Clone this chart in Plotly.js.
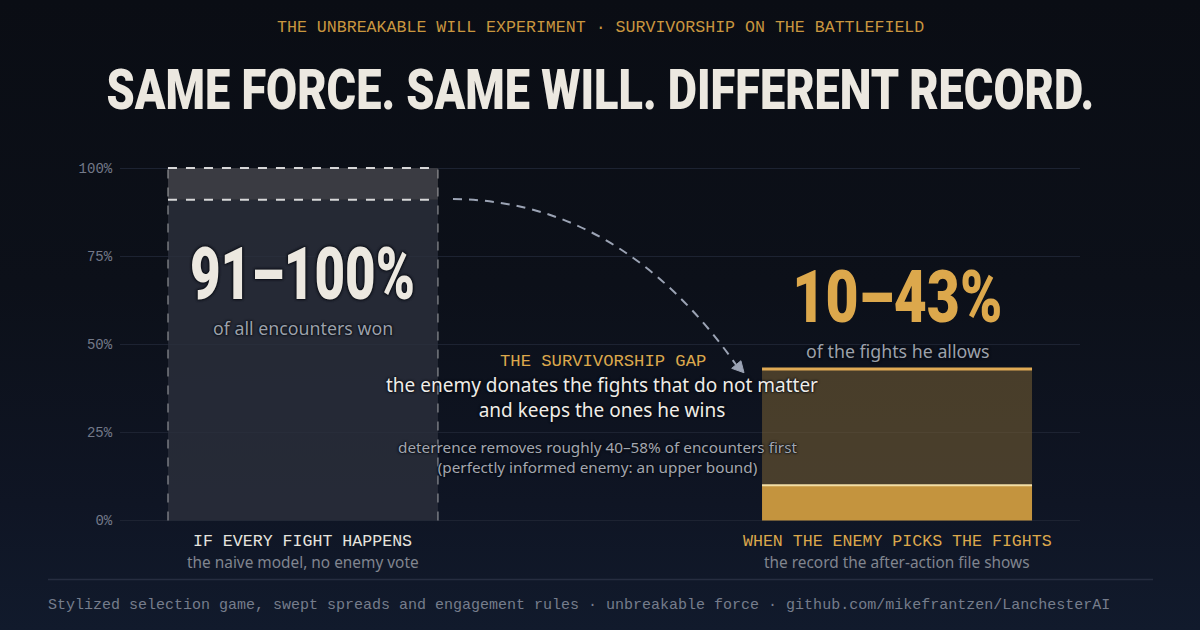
<!DOCTYPE html>
<html>
<head>
<meta charset="utf-8">
<script src="https://cdn.plot.ly/plotly-3.0.1.min.js"></script>
<style>
  html, body { margin:0; padding:0; width:1200px; height:630px; overflow:hidden;
    background: linear-gradient(180deg, #0a0d14 0%, #0c1019 45%, #0f1524 80%, #111a2c 100%); }
  #chart { width:1200px; height:630px; }
</style>
</head>
<body>
<div id="chart"></div>
<script>
// ---- data ----
const categories = ['IF EVERY FIGHT HAPPENS', 'WHEN THE ENEMY PICKS THE FIGHTS'];
const categorySubtitles = ['the naive model, no enemy vote', 'the record the after-action file shows'];
const lowBound = [91, 10];     // lower end of win-rate range (%)
const highBound = [100, 43];   // upper end of win-rate range (%)
const rangeLabels = ['91–100%', '10–43%'];
const rangeCaptions = ['of all encounters won', 'of the fights he allows'];
const yTicks = [0, 25, 50, 75, 100];
const headerText = 'THE UNBREAKABLE WILL EXPERIMENT · SURVIVORSHIP ON THE BATTLEFIELD';
const titleText = 'SAME FORCE. SAME WILL. DIFFERENT RECORD.';
const gapTitle = 'THE SURVIVORSHIP GAP';
const gapText = 'the enemy donates the fights that do not matter<br>and keeps the ones he wins';
const gapNote = 'deterrence removes roughly 40–58% of encounters first<br>(perfectly informed enemy: an upper bound)';
const footerText = 'Stylized selection game, swept spreads and engagement rules · unbreakable force · github.com/mikefrantzen/LanchesterAI';

// ---- style ----
const MONO = 'Liberation Mono, DejaVu Sans Mono, monospace';
const SANS = 'Noto Sans, Inter, Open Sans, sans-serif';
const COND = 'Roboto, Liberation Sans, sans-serif';
const GOLD = '#dca84c';
const CREAM = '#ece8e0';
const GREY = '#9ca1ab';
const HALO = '0px 0px 3px #0a0d14, 0px 0px 2px #0a0d14, 0px 0px 1px #0a0d14';
const barW = 0.4545;

const M = {l:120, r:120, t:154, b:105.5};
const plotH = 630 - M.t - M.b, plotW = 1200 - M.l - M.r;
const px = x => (x - M.l) / plotW;
const py = y => (630 - M.b - y) / plotH;

const xs = categories.map((_, i) => i);

const traces = [
  { type:'bar', x:[xs[0]], y:[lowBound[0]], base:[0], width:barW,
    marker:{color:'rgba(44,48,60,0.8)', line:{width:0}}, hoverinfo:'skip', showlegend:false },
  { type:'bar', x:[xs[0]], y:[highBound[0]-lowBound[0]], base:[lowBound[0]], width:barW,
    marker:{color:'#3a3b42', line:{width:0}}, hoverinfo:'skip', showlegend:false },
  { type:'bar', x:[xs[1]], y:[lowBound[1]], base:[0], width:barW,
    marker:{color:'#c4943e', line:{width:0}}, hoverinfo:'skip', showlegend:false },
  { type:'bar', x:[xs[1]], y:[highBound[1]-lowBound[1]], base:[lowBound[1]], width:barW,
    marker:{color:'rgba(110,88,50,0.62)', line:{width:0}}, hoverinfo:'skip', showlegend:false }
];

const shapes = [];
const lx0 = xs[0]-barW/2, lx1 = xs[0]+barW/2;
shapes.push({type:'line', xref:'x', yref:'y', x0:lx0, x1:lx0, y0:0, y1:highBound[0], line:{color:'rgba(220,220,220,0.55)', width:1.3, dash:'dash'}});
shapes.push({type:'line', xref:'x', yref:'y', x0:lx1, x1:lx1, y0:0, y1:highBound[0], line:{color:'rgba(220,220,220,0.55)', width:1.3, dash:'dash'}});
shapes.push({type:'line', xref:'x', yref:'y', x0:lx0, x1:lx1, y0:highBound[0], y1:highBound[0], line:{color:'rgba(235,235,235,0.9)', width:2, dash:'dash'}});
shapes.push({type:'line', xref:'x', yref:'y', x0:lx0, x1:lx1, y0:lowBound[0], y1:lowBound[0], line:{color:'rgba(235,235,235,0.9)', width:2, dash:'dash'}});
const rx0 = xs[1]-barW/2, rx1 = xs[1]+barW/2;
shapes.push({type:'line', xref:'x', yref:'y', x0:rx0, x1:rx1, y0:highBound[1], y1:highBound[1], line:{color:'#e0aa55', width:3}});
shapes.push({type:'line', xref:'x', yref:'y', x0:rx0, x1:rx1, y0:lowBound[1], y1:lowBound[1], line:{color:'#f3dfa6', width:2}});
shapes.push({type:'path', xref:'x', yref:'y',
  path:'M 0.2525,91.2 Q 0.5337,90.9 0.7290,44.19',
  line:{color:'#9ba3b4', width:2, dash:'9px,7px'}});
shapes.push({type:'path', xref:'x', yref:'y',
  path:'M 0.7424,41.93 L 0.7372,45.33 L 0.7217,43.17 Z',
  fillcolor:'#9ba3b4', line:{color:'#9ba3b4', width:1}});
shapes.push({type:'line', xref:'paper', yref:'paper', x0:px(48), x1:px(1153), y0:py(580), y1:py(580), line:{color:'#262d40', width:1.5}});

const ann = [];
const fitWidths = {}; // annotation index -> target pixel width (horizontal condensing)
ann.push({xref:'paper', yref:'paper', x:px(600), y:py(27), text:headerText, showarrow:false,
  xanchor:'center', yanchor:'middle', font:{family:MONO, size:16.6, color:'#c9963f'}});
fitWidths[ann.length] = 988;
ann.push({xref:'paper', yref:'paper', x:px(600), y:py(90), text:titleText, showarrow:false,
  xanchor:'center', yanchor:'middle', font:{family:COND, size:56, color:CREAM, weight:900}});
const bigColors = [CREAM, GOLD];
const bigY = [274, 297];
const bigW = [225, 210];
const capY = [328, 351];
xs.forEach((x, i) => {
  fitWidths[ann.length] = bigW[i];
  ann.push({xref:'x', yref:'paper', x:x, y:py(bigY[i]), text:rangeLabels[i], showarrow:false,
    xanchor:'center', yanchor:'middle',
    font:{family:COND, size:73, color:bigColors[i], weight:900, shadow: i===0 ? '0px 0px 3px #0a0d14, 0px 0px 3px #0a0d14, 0px 0px 2px #0a0d14' : 'none'}});
  ann.push({xref:'x', yref:'paper', x:x, y:py(capY[i]), text:rangeCaptions[i], showarrow:false,
    xanchor:'center', yanchor:'middle', font:{family:SANS, size:17.8, color:GREY, shadow:HALO}});
  ann.push({xref:'x', yref:'paper', x:x, y:py(542), text:categories[i], showarrow:false,
    xanchor:'center', yanchor:'middle', font:{family:MONO, size:16.6, color: i===0 ? '#e6e4df' : GOLD}});
  ann.push({xref:'x', yref:'paper', x:x, y:py(563), text:categorySubtitles[i], showarrow:false,
    xanchor:'center', yanchor:'middle', font:{family:SANS, size:15.4, color:'#80858f'}});
});
ann.push({xref:'paper', yref:'paper', x:px(603), y:py(362), text:gapTitle, showarrow:false,
  xanchor:'center', yanchor:'middle', font:{family:MONO, size:17.2, color:GOLD}});
ann.push({xref:'paper', yref:'paper', x:px(602), y:py(398), text:gapText, showarrow:false,
  xanchor:'center', yanchor:'middle', font:{family:SANS, size:19, color:'#efede8', shadow:HALO}});
ann.push({xref:'paper', yref:'paper', x:px(597), y:py(457.5), text:gapNote, showarrow:false,
  xanchor:'center', yanchor:'middle', font:{family:SANS, size:15.3, color:'#a3a7b0', shadow:HALO}});
ann.push({xref:'paper', yref:'paper', x:px(46), y:py(606), text:footerText, showarrow:false,
  xanchor:'left', yanchor:'middle', font:{family:MONO, size:15, color:'#767d8c'}});

const layout = {
  width:1200, height:630,
  margin:M,
  paper_bgcolor:'rgba(0,0,0,0)', plot_bgcolor:'rgba(0,0,0,0)',
  barmode:'overlay',
  showlegend:false,
  xaxis:{range:[-0.308, 1.308], showgrid:false, zeroline:false, showticklabels:false, ticks:'', showline:false, fixedrange:true},
  yaxis:{range:[-1, 104], tickvals:yTicks, ticktext:yTicks.map(v => v + '%'),
    showgrid:true, gridcolor:'#1d2332', gridwidth:1, zeroline:false, showline:false,
    ticks:'outside', ticklen:4, tickcolor:'rgba(0,0,0,0)',
    tickfont:{family:MONO, size:14, color:'#737989'}, fixedrange:true},
  shapes:shapes,
  annotations:ann
};

Plotly.newPlot('chart', traces, layout, {staticPlot:true, displayModeBar:false}).then(gd => {
  // condense the display headlines horizontally to the reference widths
  const texts = gd.querySelectorAll('.annotation');
  texts.forEach((g, idx) => {
    if (!(idx in fitWidths)) return;
    const t = g.querySelector('text.annotation-text');
    if (!t) return;
    const w = t.getBBox().width;
    if (w > 0) {
      t.style.transformBox = 'fill-box';
      t.style.transformOrigin = 'center';
      t.style.transform = 'scaleX(' + (fitWidths[idx] / w).toFixed(4) + ')';
    }
  });
});
</script>
</body>
</html>
